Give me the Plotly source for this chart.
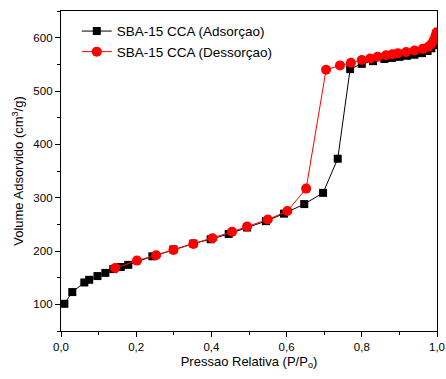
import plotly.graph_objects as go

ads_x = [0.009, 0.030, 0.062, 0.075, 0.097, 0.118, 0.139, 0.159, 0.179, 0.243, 0.299, 0.352,
         0.398, 0.446, 0.495, 0.545, 0.593, 0.647, 0.697, 0.736, 0.769, 0.80, 0.83, 0.86,
         0.88, 0.90, 0.92, 0.94, 0.96, 0.975, 0.985, 0.993, 1.0]
ads_y = [101, 123, 141, 146, 153, 159, 166, 170, 174, 190, 203, 214,
         222, 232, 244, 256, 270, 288, 309, 373, 541, 551, 556, 560,
         562, 564, 566, 568, 571, 575, 580, 586, 595]

des_x = [0.144, 0.202, 0.253, 0.299, 0.352, 0.403, 0.455, 0.495, 0.550, 0.602, 0.652,
         0.705, 0.742, 0.771, 0.800, 0.822, 0.842, 0.864, 0.881, 0.896, 0.918, 0.940,
         0.962, 0.977, 0.986, 0.992, 0.996, 0.999]
des_y = [168, 182, 192, 202, 213, 224, 236, 246, 259, 275, 317,
         540, 548, 553, 558, 561, 564, 567, 569, 571, 573, 576,
         579, 583, 589, 596, 603, 610]

fig = go.Figure()
fig.add_trace(go.Scatter(x=ads_x, y=ads_y, mode="lines+markers", name="SBA-15 CCA (Adsorçao)",
                         line=dict(color="black", width=1),
                         marker=dict(symbol="square", size=8, color="black")))
fig.add_trace(go.Scatter(x=des_x, y=des_y, mode="lines+markers", name="SBA-15 CCA (Dessorçao)",
                         line=dict(color="red", width=1),
                         marker=dict(symbol="circle", size=10, color="red")))

axis_common = dict(showline=True, linecolor="black", linewidth=1.3, mirror=True, automargin=False,
                   ticks="outside", ticklen=5, tickcolor="black", showgrid=False, zeroline=False,
                   tickfont=dict(family="Liberation Sans, Arial", size=11.5, color="black"))

fig.update_layout(
    width=446, height=379,
    margin=dict(l=61, r=9, t=11, b=48),
    paper_bgcolor="white", plot_bgcolor="white",
    separators=",.",
    font=dict(family="Liberation Sans, Arial", color="black"),
    showlegend=True,
    legend=dict(x=0.042, y=0.985, xanchor="left", yanchor="top", bgcolor="rgba(0,0,0,0)",
                font=dict(size=13.5), itemwidth=30, tracegroupgap=0),
    xaxis=dict(range=[0, 1], dtick=0.2, tickformat=".1f",
               minor=dict(ticks="outside", ticklen=3, dtick=0.1, tickcolor="black"),
               title=dict(text="Pressao Relativa (P/P<sub>o</sub>)", font=dict(size=13), standoff=4),
               **axis_common),
    yaxis=dict(range=[50, 650], tickvals=[100, 200, 300, 400, 500, 600],
               minor=dict(ticks="outside", ticklen=3, tickvals=[50, 150, 250, 350, 450, 550, 650], tickcolor="black"),
               title=dict(text="Volume Adsorvido (cm<sup>3</sup>/g)", font=dict(size=13), standoff=6),
               **axis_common),
)

fig.write_html("out.html", config={"displayModeBar": False},
               post_script="document.body.style.margin='0';document.body.style.overflow='hidden';")
